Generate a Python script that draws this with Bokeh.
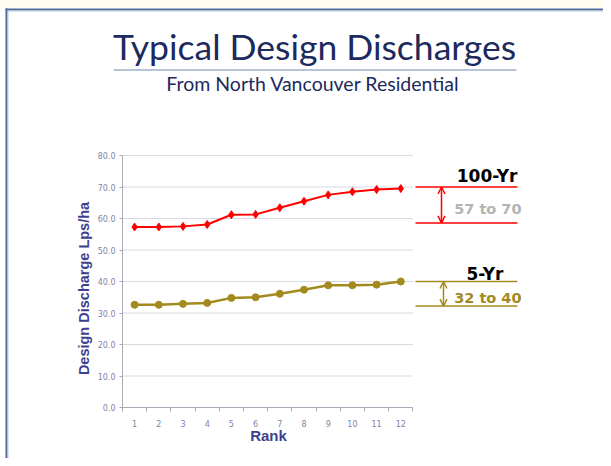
from math import pi
from bokeh.plotting import figure
from bokeh.models import Label, Arrow, OpenHead, FixedTicker, PrintfTickFormatter, Range1d
from bokeh.embed import file_html
from bokeh.resources import INLINE

# ---- data ----
rank = [1, 2, 3, 4, 5, 6, 7, 8, 9, 10, 11, 12]
q100 = [57.3, 57.3, 57.5, 58.1, 61.2, 61.3, 63.4, 65.5, 67.5, 68.5, 69.2, 69.5]
q5 = [32.6, 32.6, 32.9, 33.2, 34.8, 35.0, 36.1, 37.4, 38.8, 38.8, 39.0, 40.0]
yticks = [0, 10, 20, 30, 40, 50, 60, 70, 80]
range100 = [58.6, 70.0]
range5 = [32.2, 40.0]
title_text = "Typical Design Discharges"
subtitle_text = "From North Vancouver Residential"
xlabel = "Rank"
ylabel = "Design Discharge Lps/ha"
lab100 = "100-Yr"
txt100 = "57 to 70"
lab5 = "5-Yr"
txt5 = "32 to 40"

RED = "#FF0000"
GOLD = "#A38A1F"
NAVY = "#1C2A5E"
AXC = "#3D3F8E"

W, H = 603, 458
# pixel layout of the chart area (page pixels)
X0PX, XPX = 122.0, 24.2      # x=0.5 at 122px, 24.2 px per rank
Y0PX, YPX = 407.0, 3.15      # y=0 at 407px, 3.15 px per unit

def sx(px):
    return 0.5 + (px - X0PX) / XPX

def sy(py):
    return (Y0PX - py) / YPX

p = figure(width=W, height=H,
           x_range=Range1d(sx(0), sx(W)), y_range=Range1d(sy(H), sy(0)),
           output_backend="svg", toolbar_location=None,
           min_border_left=0, min_border_right=0, min_border_top=0, min_border_bottom=0,
           background_fill_color="white", border_fill_color="white")
p.outline_line_color = None
p.xgrid.visible = False
p.ygrid.visible = False

# slide frame
p.quad(left=[sx(0)], right=[sx(W)], top=[sy(0)], bottom=[sy(8)], fill_color="#FFFDEF", line_color=None)
p.segment(x0=[sx(5)], x1=[sx(W)], y0=[sy(9)], y1=[sy(9)], line_color="#4F6B98", line_width=2)
p.segment(x0=[sx(7)], x1=[sx(W)], y0=[sy(10.5)], y1=[sy(10.5)], line_color="#B9C9DD", line_width=1)
p.segment(x0=[sx(6)], x1=[sx(6)], y0=[sy(8)], y1=[sy(H)], line_color="#4F6B98", line_width=2)
p.segment(x0=[sx(7.5)], x1=[sx(7.5)], y0=[sy(10)], y1=[sy(H)], line_color="#B9C9DD", line_width=1)

# grid lines limited to the chart area
p.segment(x0=[rank[0] - 0.5] * len(yticks), x1=[rank[-1] + 0.5] * len(yticks),
          y0=yticks, y1=yticks, line_color="#D9D9E1", line_width=1)

# axes, drawn inside the frame at fixed positions
xa = p.xaxis[0]
ya = p.yaxis[0]
xa.fixed_location = yticks[0]
ya.fixed_location = rank[0] - 0.5
xa.bounds = (rank[0] - 0.5, rank[-1] + 0.5)
xa.ticker = FixedTicker(ticks=rank, minor_ticks=[r - 0.5 for r in rank] + [rank[-1] + 0.5])
xa.major_tick_line_color = None
xa.minor_tick_in = 0
xa.minor_tick_out = 4
xa.minor_tick_line_color = "#A9A9B8"
xa.major_label_standoff = 6
ya.bounds = (yticks[0], yticks[-1])
ya.ticker = FixedTicker(ticks=yticks, minor_ticks=[])
ya.formatter = PrintfTickFormatter(format="%.1f")
ya.major_tick_in = 0
ya.major_tick_out = 3
ya.major_tick_line_color = "#A9A9B8"
ya.major_label_standoff = 4
for ax in (xa, ya):
    ax.axis_line_color = "#A9A9B8"
    ax.major_label_text_font = "DejaVu Sans"
    ax.major_label_text_font_size = "8px"
    ax.major_label_text_color = "#8282A6"

# series
p.line(rank, q100, line_color=RED, line_width=2)
p.scatter(rank, q100, marker="diamond", size=8, fill_color=RED, line_color=RED)
p.line(rank, q5, line_color=GOLD, line_width=2.5)
p.scatter(rank, q5, marker="circle", size=7, fill_color=GOLD, line_color=GOLD)

# range markers on the right
p.segment(x0=[sx(415)] * 2, x1=[sx(517)] * 2, y0=range100, y1=range100, line_color=RED, line_width=1.5)
p.segment(x0=[sx(415)] * 2, x1=[sx(517)] * 2, y0=range5, y1=range5, line_color=GOLD, line_width=1.5)
p.add_layout(Arrow(x_start=sx(441), y_start=range100[0], x_end=sx(441), y_end=range100[1],
                   line_color=RED, line_width=1.5,
                   start=OpenHead(size=7, line_color=RED, line_width=1.5),
                   end=OpenHead(size=7, line_color=RED, line_width=1.5)))
p.add_layout(Arrow(x_start=sx(443), y_start=range5[0], x_end=sx(443), y_end=range5[1],
                   line_color=GOLD, line_width=1.5,
                   start=OpenHead(size=7, line_color=GOLD, line_width=1.5),
                   end=OpenHead(size=7, line_color=GOLD, line_width=1.5)))

def lab(xpx, ypx, text, size, color, font="DejaVu Sans", style="bold", align="right", angle=0):
    p.add_layout(Label(x=sx(xpx), y=sy(ypx), text=text, text_font=font, text_font_size=size,
                       text_font_style=style, text_color=color, text_align=align,
                       text_baseline="middle", angle=angle))

lab(517, 175, lab100, "17px", "black")
lab(521, 208, txt100, "14.5px", "#B4B4B4")
lab(503, 273, lab5, "17px", "black")
lab(521, 297, txt5, "14.5px", GOLD)

# axis titles
lab(268, 435, xlabel, "15px", AXC, font="Liberation Sans", align="center")
lab(83, 288, ylabel, "14.5px", AXC, font="Liberation Sans", align="center", angle=pi / 2)

# slide title
p.segment(x0=[sx(113)], x1=[sx(516)], y0=[sy(69.5)], y1=[sy(69.5)], line_color="#B7C5D8", line_width=2)
lab(314, 46, title_text, "35.5px", NAVY, font="Lato", style="normal", align="center")
lab(312.5, 82.5, subtitle_text, "19.5px", NAVY, font="Lato", style="normal", align="center")

open("out.html", "w").write(file_html(p, INLINE))
